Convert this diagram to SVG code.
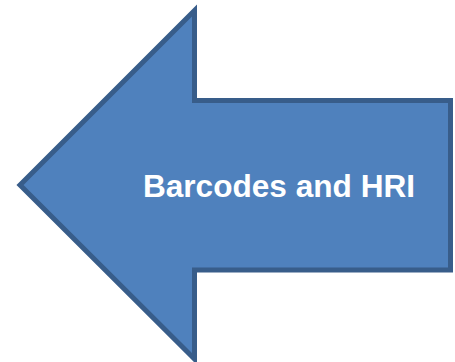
<svg xmlns="http://www.w3.org/2000/svg" width="455" height="362" viewBox="0 0 455 362">
<style>
.arrow{fill:#4F81BD;stroke:#385D8A;stroke-width:5;stroke-linejoin:miter;stroke-miterlimit:10}
.label{font-family:"Liberation Sans",Arial,sans-serif;font-weight:bold;font-size:31.6px;fill:#FFFFFF}
</style>
<g id="arrow-node">
<polygon class="arrow" points="20,185 194.5,10.5 194.5,100.5 450.5,100.5 450.5,270 194.5,270 194.5,359"/>
<text class="label" x="279" y="197" text-anchor="middle">Barcodes and HRI</text>
</g>
<g id="connectors"/>
</svg>
